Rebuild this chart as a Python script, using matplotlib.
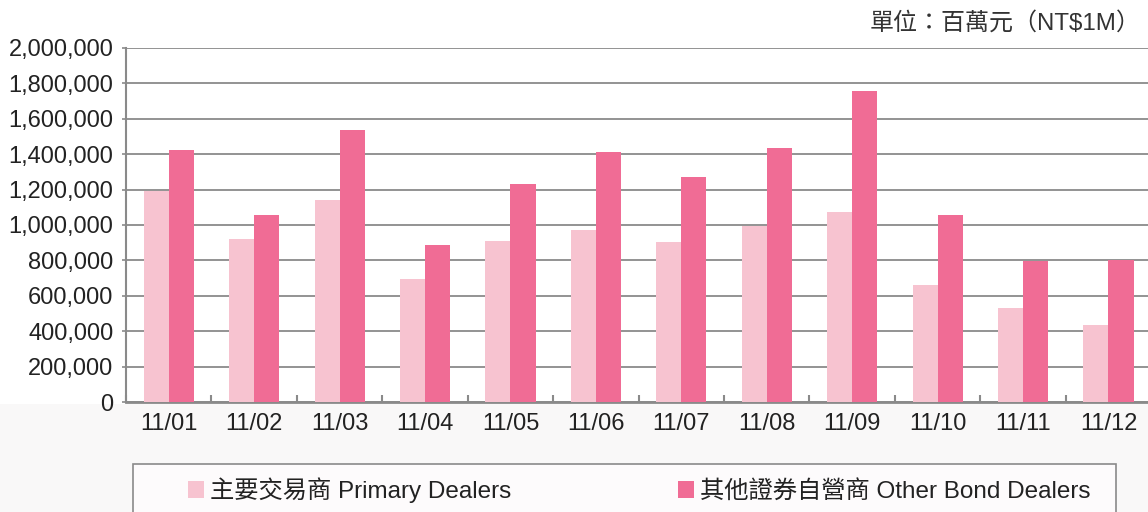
import matplotlib
matplotlib.use("Agg")
import matplotlib.pyplot as plt
import numpy as np
from matplotlib.patches import Rectangle, Patch

categories = ["11/01", "11/02", "11/03", "11/04", "11/05", "11/06",
              "11/07", "11/08", "11/09", "11/10", "11/11", "11/12"]
primary = [1190000, 920000, 1140000, 695000, 910000, 972000,
           905000, 996000, 1073000, 661000, 531000, 435000]
other = [1424000, 1056000, 1537000, 887000, 1232000, 1412000,
         1271000, 1435000, 1757000, 1056000, 795000, 802000]
yticks = [0, 200000, 400000, 600000, 800000, 1000000, 1200000,
          1400000, 1600000, 1800000, 2000000]
label_primary = "主要交易商 Primary Dealers"
label_other = "其他證券自營商 Other Bond Dealers"
unit_text = "單位：百萬元（NT$1M）"

c_light = "#F7C3D0"
c_dark = "#F06C95"
grid_c = "#8a8a8a"
fam = ["Liberation Sans", "Noto Sans CJK TC", "DejaVu Sans"]
plt.rcParams['font.family'] = fam

fig = plt.figure(figsize=(11.48, 5.12), dpi=100)
fig.patches.append(Rectangle((0, 0), 1, 0.21, transform=fig.transFigure,
                             facecolor="#f9f8f8", edgecolor="none", zorder=-10))
ax = fig.add_axes([0.1098, 0.2148, 0.893, 0.6915])
ax.set_facecolor("white")

x = np.arange(len(categories))
w = 0.293
ax.bar(x - w / 2, primary, w, color=c_light, zorder=3, label=label_primary)
ax.bar(x + w / 2, other, w, color=c_dark, zorder=3, label=label_other)

ax.set_xlim(-0.5, len(categories) - 0.5)
ax.set_ylim(0, 2000000)
ax.set_yticks(yticks)
ax.set_yticklabels([f"{v:,}" for v in yticks], fontsize=17, color="#222222")
ax.set_xticks(x)
ax.set_xticklabels(categories, fontsize=17, color="#222222")
ax.set_xticks(np.arange(len(categories) + 1) - 0.5, minor=True)
ax.tick_params(axis='x', which='major', length=0, pad=8)
ax.tick_params(axis='x', which='minor', length=5, direction='in', color=grid_c, width=1.5)
ax.tick_params(axis='y', length=3, color=grid_c, width=1.2, pad=6)

ax.yaxis.grid(True, color=grid_c, linewidth=1.3, zorder=1)
ax.set_axisbelow(True)
for s in ["top", "right"]:
    ax.spines[s].set_visible(False)
ax.spines["left"].set_color(grid_c)
ax.spines["left"].set_linewidth(1.5)
ax.spines["bottom"].set_color(grid_c)
ax.spines["bottom"].set_linewidth(2)

fig.text(0.9935, 0.955, unit_text, ha="right", va="center", fontsize=17.3,
         color="#333333")

# legend box
fig.patches.append(Rectangle((0.1159, -0.05), 0.8562, 0.05 + 0.0938,
                             transform=fig.transFigure, facecolor="#fdfbfc",
                             edgecolor="#8a8a8a", linewidth=1.2, zorder=-5))
handles = [Patch(facecolor=c_light, edgecolor="none"),
           Patch(facecolor=c_dark, edgecolor="none")]
leg = fig.legend(handles, [label_primary, label_other], ncol=2,
                 bbox_to_anchor=(188 / 1148, 1 - 490 / 512), loc="center left",
                 fontsize=17.5, frameon=False, borderaxespad=0, borderpad=0,
                 handlelength=0.66, handleheight=0.66, handletextpad=0.25,
                 columnspacing=6.87)
for t in leg.get_texts():
    t.set_color("#222222")

fig.savefig("out.png", dpi=100)
